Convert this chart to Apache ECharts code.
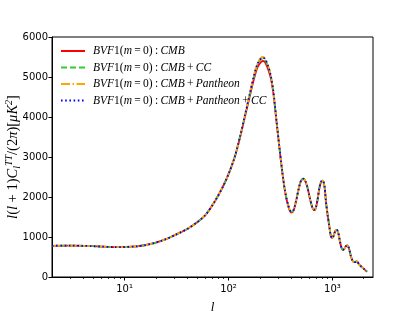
<!DOCTYPE html>
<html><head><meta charset="utf-8">
<script src="https://cdn.jsdelivr.net/npm/echarts@6/dist/echarts.min.js"></script>
<style>html,body{margin:0;padding:0;background:#fff}#c{width:415px;height:311px}</style>
</head><body><div id="c"></div>
<script>
const ells = [2,3,4,5,6,8,10,13,16,20,25,30,40,50,60,75,90,100,115,130,145,160,175,190,205,215,225,240,255,270,290,310,330,350,375,400,420,445,475,500,525,550,580,610,640,665,690,720,750,780,810,840,870,900,935,965,995,1030,1065,1100,1140,1180,1220,1260,1300,1350,1400,1450,1500,1550,1600,1650,1700,1750,1800,1900,2000,2100,2150];

const dlCMB = [780,785,780,770,760,748,750,765,800,860,945,1040,1200,1370,1550,1920,2300,2570,3000,3520,4040,4510,4930,5240,5370,5400,5370,5200,4980,4600,3880,3200,2600,2140,1780,1610,1640,1870,2210,2410,2450,2390,2200,1940,1740,1670,1710,1930,2220,2380,2400,2250,1850,1550,1260,1030,970,1040,1150,1180,1100,900,740,680,700,770,790,700,540,430,380,370,390,380,320,260,210,160,135];
const dlCMBCC = [780,785,780,770,760,748,750,765,800,860,945,1040,1200,1370,1550,1920,2300,2570,3010,3540,4070,4550,4980,5300,5440,5460,5430,5260,5030,4640,3900,3220,2620,2150,1800,1635,1660,1880,2220,2420,2460,2400,2210,1950,1750,1680,1720,1940,2230,2390,2410,2260,1850,1550,1260,1030,970,1040,1150,1180,1100,900,740,680,700,770,790,700,540,430,380,370,390,380,320,260,210,160,135];
const dlCMBPan = [780,785,780,770,760,748,750,765,800,860,945,1040,1200,1370,1550,1920,2300,2570,3010,3540,4080,4580,5020,5340,5480,5500,5460,5290,5050,4650,3900,3220,2620,2150,1800,1640,1660,1880,2220,2420,2460,2400,2210,1950,1750,1680,1720,1940,2230,2390,2410,2260,1850,1550,1260,1030,970,1040,1150,1180,1100,900,740,680,700,770,790,700,540,430,380,370,390,380,320,260,210,160,135];
const dlCMBPanCC = [780,785,780,770,760,748,750,765,800,860,945,1040,1200,1370,1550,1920,2300,2570,3010,3540,4080,4570,5010,5330,5460,5480,5450,5280,5040,4650,3900,3220,2620,2150,1800,1640,1660,1880,2220,2420,2460,2400,2210,1950,1750,1680,1720,1940,2230,2390,2410,2260,1850,1550,1260,1030,970,1040,1150,1180,1100,900,740,680,700,770,790,700,540,430,380,370,390,380,320,260,210,160,135];

const seriesNames = ['BVF1(m=0):CMB','BVF1(m=0):CMB+CC','BVF1(m=0):CMB+Pantheon','BVF1(m=0):CMB+Pantheon+CC'];
const T = '\u2009';
const legendRich = [
  '{i|BVF}{r|1(}{i|m}{r|'+T+'='+T+'0)'+T+':'+T+'}{i|CMB}',
  '{i|BVF}{r|1(}{i|m}{r|'+T+'='+T+'0)'+T+':'+T+'}{i|CMB}{r|'+T+'+'+T+'}{i|CC}',
  '{i|BVF}{r|1(}{i|m}{r|'+T+'='+T+'0)'+T+':'+T+'}{i|CMB}{r|'+T+'+'+T+'}{i|Pantheon}',
  '{i|BVF}{r|1(}{i|m}{r|'+T+'='+T+'0)'+T+':'+T+'}{i|CMB}{r|'+T+'+'+T+'}{i|Pantheon}{r|'+T+'+'+T+'}{i|CC}'
];
const majorTicks = [10, 100, 1000];
const majorLabels = ['10\u00b9', '10\u00b2', '10\u00b3'];
const minorTicks = [3,4,5,6,7,8,9,20,30,40,50,60,70,80,90,200,300,400,500,600,700,800,900,2000];

const chart = echarts.init(document.getElementById('c'), null, {renderer:'canvas'});
const mk = (arr) => ells.map((l,i)=>[l, arr[i]]);
const serif = 'Liberation Serif';
const styles = [
  {color:'#ff0000', type:'solid'},
  {color:'#33cc33', type:[6,3]},
  {color:'#ffa500', type:[9,2.5,1.5,2.5]},
  {color:'#0000ff', type:[1.6,2.6]}
];
const datas = [dlCMB, dlCMBCC, dlCMBPan, dlCMBPanCC];

chart.setOption({
  animation:false,
  backgroundColor:'#fff',
  grid:{left:52, right:42, top:37, bottom:34, show:true, borderColor:'#000', borderWidth:1, containLabel:false, outerBoundsMode:'none'},
  legend:{
    show:true, orient:'vertical', left:55, top:40, itemWidth:24, itemHeight:12, itemGap:4.5,
    data:seriesNames,
    itemStyle:{opacity:0},
    formatter:(n)=>legendRich[seriesNames.indexOf(n)],
    textStyle:{color:'#000', padding:[0,0,0,3], rich:{
      i:{fontFamily:serif, fontStyle:'italic', fontSize:11.5, color:'#000'},
      r:{fontFamily:serif, fontSize:11.5, color:'#000'}
    }}
  },
  xAxis:[{
    type:'log', logBase:10, min:2, max:2460,
    axisLine:{show:true, lineStyle:{color:'#000', width:1}},
    axisTick:{show:true, inside:false, length:3.5, lineStyle:{color:'#000'}, customValues:majorTicks},
    axisLabel:{show:true, customValues:majorTicks, color:'#000', fontFamily:'DejaVu Sans', fontSize:10, margin:7,
      formatter:(v)=>majorLabels[majorTicks.indexOf(Math.pow(10, Math.round(Math.log10(v))))]},
    splitLine:{show:false},
    name:'l', nameLocation:'middle', nameGap:24, nameMoveOverlap:false,
    nameTextStyle:{fontFamily:serif, fontStyle:'italic', fontSize:13, color:'#000'}
  },{
    type:'log', logBase:10, min:2, max:2460, position:'bottom',
    axisLine:{show:false},
    axisTick:{show:true, inside:false, length:2, lineStyle:{color:'#000', width:0.8}, customValues:minorTicks},
    axisLabel:{show:false}, splitLine:{show:false}
  }],
  yAxis:{
    type:'value', min:0, max:6000, interval:1000,
    axisLine:{show:true, lineStyle:{color:'#000', width:1}},
    axisTick:{show:true, inside:false, length:3.5, lineStyle:{color:'#000'}},
    axisLabel:{color:'#000', fontFamily:'DejaVu Sans', fontSize:10, margin:4, formatter:(v)=>String(v)},
    splitLine:{show:false},
    name:'{i|l}{r|(}{i|l}{r| + 1)}{i|C}{sub|l}{sup|TT}{r|/(2}{i|π}{r|)[}{i|μK}{sup|2}{r|]}',
    nameLocation:'middle', nameGap:30, nameRotate:90, nameMoveOverlap:false,
    nameTextStyle:{color:'#000', rich:{
      i:{fontFamily:serif, fontStyle:'italic', fontSize:14.5, lineHeight:18, color:'#000'},
      r:{fontFamily:serif, fontSize:14.5, lineHeight:18, color:'#000'},
      sup:{fontFamily:serif, fontStyle:'italic', fontSize:10, lineHeight:18, verticalAlign:'top', color:'#000'},
      sub:{fontFamily:serif, fontStyle:'italic', fontSize:10, lineHeight:18, verticalAlign:'bottom', color:'#000'}
    }}
  },
  series: datas.map((d,k)=>({
    name:seriesNames[k], type:'line', xAxisIndex:0, data:mk(d), smooth:0.3,
    symbol:'none', showSymbol:false, clip:true, z:2+k,
    lineStyle:{color:styles[k].color, width:1.8, type:styles[k].type, cap:'butt'},
    itemStyle:{color:styles[k].color}
  }))
});
</script></body></html>
